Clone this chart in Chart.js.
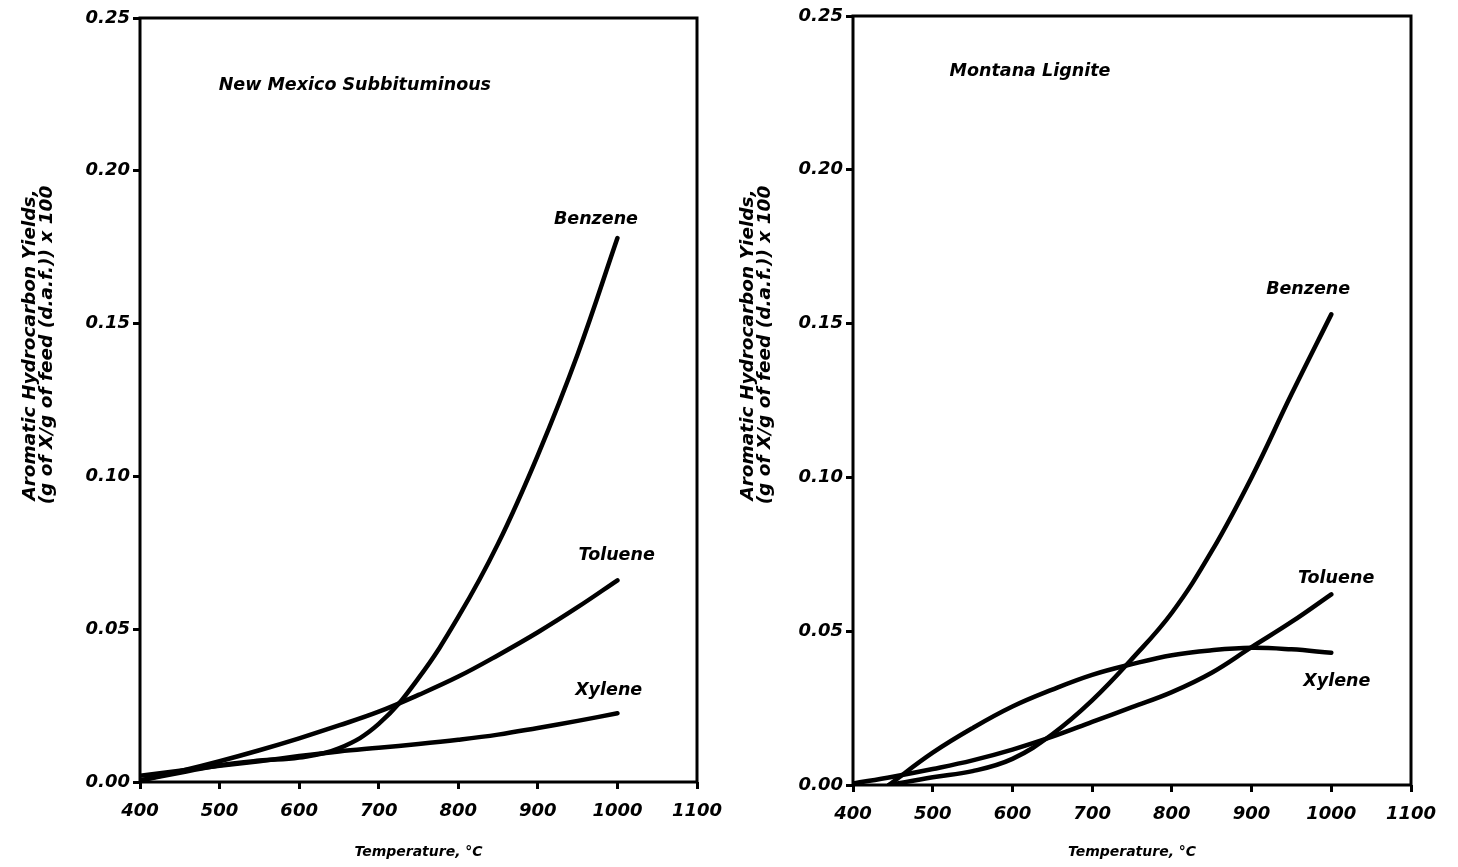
<!DOCTYPE html>
<html>
<head>
<meta charset="utf-8">
<script src="https://cdn.jsdelivr.net/npm/chart.js@4.4.1/dist/chart.umd.min.js"></script>
<style>
  html, body { margin: 0; padding: 0; background: #fff; }
  #wrap { position: relative; width: 1458px; height: 867px; }
  .panel { position: absolute; top: 0; width: 729px; height: 867px; }
</style>
</head>
<body>
<div id="wrap">
  <div class="panel" style="left:0"><canvas id="leftChart" width="729" height="867"></canvas></div>
  <div class="panel" style="left:729px"><canvas id="rightChart" width="729" height="867"></canvas></div>
</div>
<script>
// temperatures (°C) and yields
const temps = [400, 450, 500, 550, 600, 650, 700, 750, 800, 850, 900, 950, 1000];

// New Mexico Subbituminous
const nmBenzene = [0.0005, 0.003, 0.0055, 0.007, 0.008, 0.011, 0.019, 0.034, 0.054, 0.078, 0.107, 0.140, 0.178];
const nmToluene = [0.0005, 0.0035, 0.0068, 0.0104, 0.0143, 0.0185, 0.023, 0.0285, 0.0345, 0.0415, 0.049, 0.0572, 0.066];
const nmXylene  = [0.002, 0.0037, 0.0053, 0.0068, 0.0085, 0.010, 0.0112, 0.0124, 0.0138, 0.0155, 0.0177, 0.020, 0.0225];

// Montana Lignite
const mlBenzeneT = [445, 500, 550, 600, 650, 700, 750, 800, 850, 900, 950, 1000];
const mlBenzene  = [0.0, 0.0025, 0.0045, 0.0085, 0.0165, 0.0275, 0.041, 0.056, 0.076, 0.100, 0.127, 0.153];
const mlToluene  = [0.0005, 0.0027, 0.0052, 0.008, 0.0115, 0.0157, 0.0205, 0.0253, 0.0302, 0.0365, 0.0448, 0.053, 0.062];
const mlXyleneT  = [445, 500, 550, 600, 650, 700, 750, 800, 850, 900, 950, 1000];
const mlXylene   = [0.0, 0.0105, 0.0185, 0.0255, 0.031, 0.0358, 0.0393, 0.0422, 0.0438, 0.0446, 0.0441, 0.043];

const xTicks = [400, 500, 600, 700, 800, 900, 1000, 1100];
const yTicks = [0, 0.05, 0.10, 0.15, 0.20, 0.25];

// text written inside the plots, placed in data units
const nmNotes = [
    { text: 'New Mexico Subbituminous', x: 670, y: 0.228 },
    { text: 'Benzene', x: 973, y: 0.184 },
    { text: 'Toluene', x: 999, y: 0.074 },
    { text: 'Xylene',  x: 989, y: 0.030 }
];
const mlNotes = [
    { text: 'Montana Lignite', x: 622, y: 0.232 },
    { text: 'Benzene', x: 971, y: 0.161 },
    { text: 'Toluene', x: 1006, y: 0.067 },
    { text: 'Xylene',  x: 1007, y: 0.0336 }
];

const yTitle = ['Aromatic Hydrocarbon Yields,', '(g of X/g of feed (d.a.f.)) x 100'];
const FONT = '"DejaVu Sans", sans-serif';

function pts(xs, ys) {
    return xs.map((x, i) => ({ x: x, y: ys[i] }));
}

function line(label, xs, ys) {
    return {
        label: label,
        data: pts(xs, ys),
        borderColor: '#000',
        borderWidth: 4.5,
        borderCapStyle: 'round',
        pointRadius: 0,
        tension: 0.4,
        fill: false
    };
}

// frame, notes and y title
const decor = {
    id: 'decor',
    afterDraw(chart, args, opts) {
        const ctx = chart.ctx;
        const a = chart.chartArea;
        const xs = chart.scales.x, ys = chart.scales.y;
        ctx.save();
        ctx.strokeStyle = '#000';
        ctx.lineWidth = 3;
        ctx.strokeRect(a.left, a.top, a.right - a.left, a.bottom - a.top);

        ctx.fillStyle = '#000';
        ctx.font = 'italic bold 17.5px ' + FONT;
        ctx.textAlign = 'center';
        ctx.textBaseline = 'middle';
        opts.notes.forEach(n => {
            ctx.fillText(n.text, xs.getPixelForValue(n.x), ys.getPixelForValue(n.y));
        });

        ctx.font = 'italic bold 18.5px ' + FONT;
        ctx.translate(opts.titleX, 345);
        ctx.rotate(-Math.PI / 2);
        ctx.fillText(yTitle[0], 0, 0);
        ctx.fillText(yTitle[1], 0, 17);
        ctx.restore();
    }
};

function drawChart(id, datasets, notes, cfg) {
    const ctx = document.getElementById(id).getContext('2d');
    return new Chart(ctx, {
        type: 'line',
        data: { datasets: datasets },
        options: {
            responsive: false,
            animation: false,
            layout: { padding: { top: cfg.top, right: cfg.right, left: 0, bottom: 0 } },
            plugins: {
                legend: { display: false },
                tooltip: { enabled: false },
                decor: { notes: notes, titleX: cfg.titleX }
            },
            scales: {
                x: {
                    type: 'linear',
                    min: 400,
                    max: 1100,
                    afterBuildTicks: s => { s.ticks = xTicks.map(v => ({ value: v })); },
                    afterFit: s => {
                        s.height = cfg.xh;
                        s.paddingLeft = 0;
                        s.paddingRight = 0;
                    },
                    grid: { drawOnChartArea: false, tickLength: 7, lineWidth: 3, color: '#000' },
                    border: { display: false },
                    ticks: {
                        color: '#000',
                        padding: 12,
                        maxRotation: 0,
                        callback: v => String(v),
                        font: { family: FONT, size: 18, style: 'italic', weight: 'bold' }
                    },
                    title: {
                        display: true,
                        text: 'Temperature, °C',
                        color: '#000',
                        padding: { top: 0, bottom: 6 },
                        font: { family: FONT, size: 14, style: 'italic', weight: 'bold' }
                    }
                },
                y: {
                    min: 0,
                    max: 0.25,
                    afterBuildTicks: s => { s.ticks = yTicks.map(v => ({ value: v })); },
                    afterFit: s => { s.width = cfg.yw; },
                    grid: { drawOnChartArea: false, tickLength: 7, lineWidth: 3, color: '#000' },
                    border: { display: false },
                    ticks: {
                        color: '#000',
                        padding: 3,
                        callback: v => v.toFixed(2),
                        font: { family: FONT, size: 18, style: 'italic', weight: 'bold' }
                    }
                }
            }
        },
        plugins: [decor]
    });
}

drawChart('leftChart', [
    line('Benzene', temps, nmBenzene),
    line('Toluene', temps, nmToluene),
    line('Xylene', temps, nmXylene)
], nmNotes, { top: 18, right: 32, yw: 140, xh: 85, titleX: 30 });

drawChart('rightChart', [
    line('Benzene', mlBenzeneT, mlBenzene),
    line('Toluene', temps, mlToluene),
    line('Xylene', mlXyleneT, mlXylene)
], mlNotes, { top: 16, right: 47, yw: 124, xh: 82, titleX: 19 });
</script>
</body>
</html>
